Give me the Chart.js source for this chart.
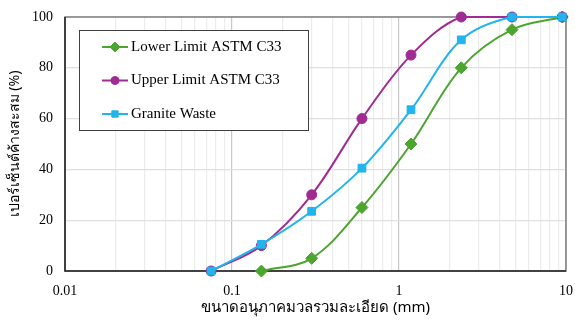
<!DOCTYPE html>
<html>
<head>
<meta charset="utf-8">
<script src="https://cdn.jsdelivr.net/npm/chart.js@4"></script>
<style>
  html, body { margin: 0; padding: 0; background: #fff; }
  #wrap { width: 575px; height: 320px; position: relative; }
</style>
</head>
<body>
<div id="wrap"><canvas id="graficoGradacao"></canvas></div>
<script>
// sieve sizes (mm) and passing percentages
const sieveSizes = [0.075, 0.15, 0.3, 0.6, 1.18, 2.36, 4.75, 9.5];
const lowerLimit = [null, 0, 5, 25, 50, 80, 95, 100];
const upperLimit = [0, 10, 30, 60, 85, 100, 100, 100];
const graniteWaste = [0, 10.5, 23.5, 40.5, 63.5, 91, 100, 100];
const seriesNames = ['Lower Limit ASTM C33', 'Upper Limit ASTM C33', 'Granite Waste'];
const xTickLabels = [0.01, 0.1, 1, 10];
const yTickLabels = [0, 20, 40, 60, 80, 100];

const toPoints = (values) => {
    return sieveSizes.map((s, i) => ({ x: s, y: values[i] })).filter(p => p.y !== null);
};

const serif = 'Liberation Serif, Times New Roman, serif';
const thai = 'Noto Sans, DejaVu Sans, sans-serif';

// legend drawn inside the plot area, Excel style
const insideLegend = {
    id: 'insideLegend',
    afterDraw(chart) {
        const ctx = chart.ctx;
        const x0 = 79, y0 = 30, w = 229, h = 100;
        ctx.save();
        ctx.fillStyle = '#fff';
        ctx.fillRect(x0, y0, w, h);
        ctx.strokeStyle = '#404040';
        ctx.lineWidth = 1;
        ctx.strokeRect(x0 + 0.5, y0 + 0.5, w, h);
        chart.data.datasets.forEach((ds, i) => {
            const y = 47 + i * 33.5;
            ctx.strokeStyle = ds.borderColor;
            ctx.lineWidth = 2;
            ctx.beginPath();
            ctx.moveTo(102, y);
            ctx.lineTo(128, y);
            ctx.stroke();
            ctx.fillStyle = ds.backgroundColor;
            ctx.strokeStyle = ds.borderColor;
            ctx.lineWidth = 1;
            Chart.helpers.drawPoint(ctx, {
                pointStyle: ds.pointStyle,
                radius: ds.pointRadius - 1,
                borderWidth: 1
            }, 115, y);
            ctx.fillStyle = '#000';
            ctx.font = '15px ' + serif;
            ctx.textBaseline = 'middle';
            ctx.textAlign = 'left';
            ctx.fillText(ds.label, 131, y);
        });
        ctx.restore();
    }
};

const plotFrame = {
    id: 'plotFrame',
    beforeDatasetsDraw(chart) {
        const a = chart.chartArea;
        const ctx = chart.ctx;
        ctx.save();
        ctx.strokeStyle = '#7f7f7f';
        ctx.lineWidth = 1.5;
        ctx.strokeRect(a.left, a.top, a.right - a.left, a.bottom - a.top);
        ctx.strokeStyle = '#262626';
        ctx.beginPath();
        ctx.moveTo(a.left, a.top);
        ctx.lineTo(a.left, a.bottom);
        ctx.lineTo(a.right, a.bottom);
        ctx.stroke();
        ctx.restore();
    }
};

const ctx1 = document.getElementById('graficoGradacao').getContext('2d');

const graficoGradacao = new Chart(ctx1, {
    type: 'scatter',
    data: {
        datasets: [{
            label: seriesNames[0],
            data: toPoints(lowerLimit),
            borderColor: '#4ba52e',
            backgroundColor: '#4ba52e',
            pointStyle: 'rectRot',
            pointRadius: 6,
            order: 3
        }, {
            label: seriesNames[1],
            data: toPoints(upperLimit),
            borderColor: '#a02b93',
            backgroundColor: '#a02b93',
            pointStyle: 'circle',
            pointRadius: 5,
            order: 2
        }, {
            label: seriesNames[2],
            data: toPoints(graniteWaste),
            borderColor: '#22b4ec',
            backgroundColor: '#22b4ec',
            pointStyle: 'rect',
            pointRadius: 5.5,
            order: 1
        }].map(ds => Object.assign(ds, {
            showLine: true,
            borderWidth: 2,
            tension: 0.35,
            pointBorderWidth: 1,
            clip: false
        }))
    },
    options: {
        responsive: true,
        maintainAspectRatio: false,
        animation: false,
        layout: { padding: { left: 7, right: 9, top: 17, bottom: 3 } },
        plugins: {
            legend: { display: false },
            tooltip: { enabled: false }
        },
        scales: {
            x: {
                type: 'logarithmic',
                min: 0.01,
                max: 10,
                afterFit: (scale) => {
                    scale.height = 46;
                    scale.paddingLeft = 0;
                    scale.paddingRight = 0;
                },
                afterBuildTicks: (scale) => {
                    const t = [];
                    for (let d = 0.01; d < 10; d *= 10) {
                        for (let k = 1; k < 10; k++) t.push({ value: +(d * k).toPrecision(3) });
                    }
                    t.push({ value: 10 });
                    scale.ticks = t;
                },
                grid: {
                    color: (c) => xTickLabels.includes(c.tick && c.tick.value) ? '#c8c8c8' : '#ececec',
                    lineWidth: 1.2,
                    drawTicks: false
                },
                border: { display: false },
                ticks: {
                    autoSkip: false,
                    maxRotation: 0,
                    padding: 12,
                    color: '#000',
                    font: { family: serif, size: 14 },
                    callback: (v) => xTickLabels.includes(v) ? String(v) : ''
                },
                title: {
                    display: true,
                    text: 'ขนาดอนุภาคมวลรวมละเอียด (mm)',
                    color: '#000',
                    font: { family: thai, size: 15 },
                    padding: { top: 0, bottom: 0 }
                }
            },
            y: {
                min: 0,
                max: 100,
                afterFit: (scale) => {
                    scale.width = 58;
                    scale.paddingTop = 0;
                    scale.paddingBottom = 0;
                },
                afterBuildTicks: (scale) => {
                    scale.ticks = yTickLabels.map(v => ({ value: v }));
                },
                grid: {
                    color: '#e0e0e0',
                    lineWidth: 1.2,
                    drawTicks: false
                },
                border: { display: false },
                ticks: {
                    padding: 12,
                    color: '#000',
                    font: { family: serif, size: 14 }
                },
                title: {
                    display: true,
                    text: 'เปอร์เซ็นต์ค้างสะสม (%)',
                    color: '#000',
                    font: { family: thai, size: 14 },
                    padding: { top: 0, bottom: 2 }
                }
            }
        }
    },
    plugins: [plotFrame, insideLegend]
});
</script>
</body>
</html>
